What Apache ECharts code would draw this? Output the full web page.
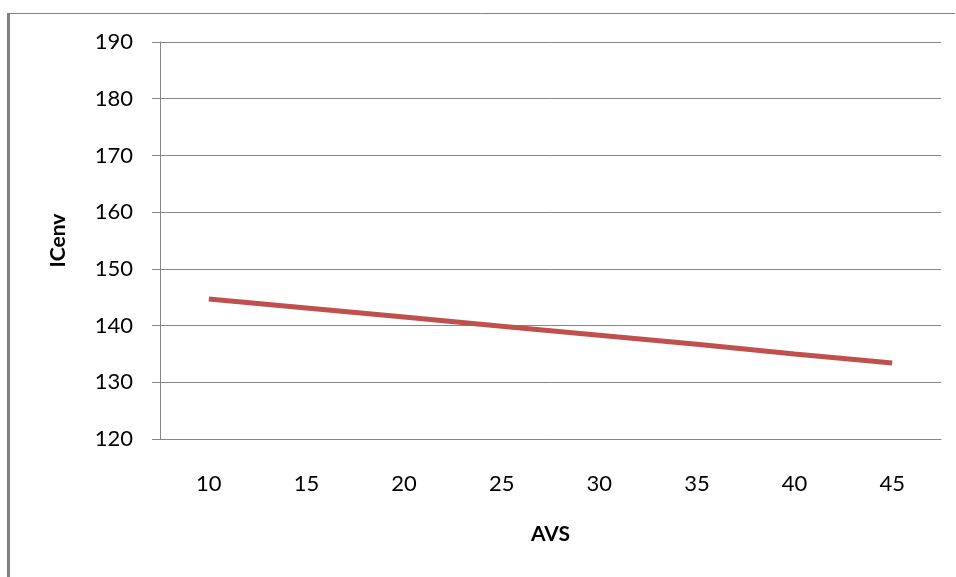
<!DOCTYPE html>
<html>
<head>
<meta charset="utf-8">
<script src="https://cdn.jsdelivr.net/npm/echarts@6/dist/echarts.min.js"></script>
<style>html,body{margin:0;padding:0;background:#fff}#c{width:956px;height:577px}</style>
</head>
<body>
<div id="c"></div>
<script>
const categories = ['10','15','20','25','30','35','40','45'];
const icenv = [144.7, 143.1, 141.5, 139.9, 138.3, 136.7, 135.0, 133.4];
const yTicks = {min: 120, max: 190, interval: 10};
const xTitle = 'AVS';
const yTitle = 'ICenv';

const chart = echarts.init(document.getElementById('c'), null, {renderer: 'canvas'});
const font = 'Lato, "Open Sans", "Liberation Sans", sans-serif';
chart.setOption({
  animation: false,
  backgroundColor: '#fff',
  graphic: [
    {type: 'rect', shape: {x: 7, y: 13, width: 3, height: 564}, style: {fill: '#808080'}},
    {type: 'line', shape: {x1: 8, y1: 13.5, x2: 955, y2: 13.5}, style: {stroke: '#808080', lineWidth: 1}}
  ],
  grid: {left: 160, right: 15, top: 42, bottom: 138},
  xAxis: {
    type: 'category',
    data: categories,
    boundaryGap: true,
    name: xTitle,
    nameLocation: 'middle',
    nameGap: 85,
    nameTextStyle: {fontFamily: font, fontWeight: 'bold', fontSize: 21, color: '#000'},
    axisLine: {show: true, lineStyle: {color: '#868686', width: 1}},
    axisTick: {show: false},
    axisLabel: {margin: 34, fontFamily: font, fontSize: 22, color: '#000'},
    splitLine: {show: false}
  },
  yAxis: {
    type: 'value',
    min: yTicks.min, max: yTicks.max, interval: yTicks.interval,
    name: yTitle,
    nameLocation: 'middle',
    nameGap: 91,
    nameTextStyle: {fontFamily: font, fontWeight: 'bold', fontSize: 21, color: '#000'},
    axisLine: {show: true, lineStyle: {color: '#868686', width: 1}},
    axisTick: {show: true, length: 8, lineStyle: {color: '#868686'}},
    axisLabel: {margin: 27, fontFamily: font, fontSize: 22, color: '#000'},
    splitLine: {show: true, lineStyle: {color: '#868686', width: 1}}
  },
  series: [{
    type: 'line',
    data: icenv,
    symbol: 'none',
    lineStyle: {color: '#C0504D', width: 5},
    itemStyle: {color: '#C0504D'}
  }]
});
</script>
</body>
</html>
